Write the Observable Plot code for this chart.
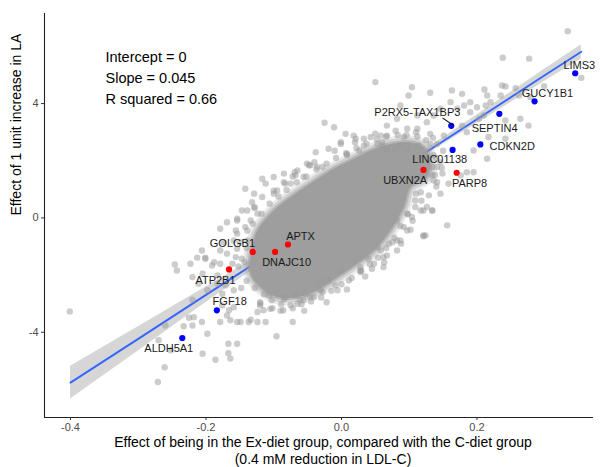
<!DOCTYPE html>
<html>
<head>
<meta charset="utf-8">
<script src="https://cdn.jsdelivr.net/npm/d3@7"></script>
<script src="https://cdn.jsdelivr.net/npm/@observablehq/plot@0.6"></script>
<style>
  body { margin: 0; background: #fff; }
  #chart { width: 601px; height: 467px; }
</style>
</head>
<body>
<div id="chart"></div>
<script>
// ---------- data ----------
// dense core of the grey cloud (outline of the fully overlapped region)
const coreX = [-0.134,-0.124,-0.100,-0.075,-0.046,-0.016,0.013,0.043,0.072,0.102,0.121,0.131,0.126,0.102,0.092,0.072,0.048,0.023,-0.006,-0.036,-0.065,-0.095,-0.120,-0.134];
const coreY = [-1.25,-0.44,0.26,0.73,1.20,1.66,2.01,2.36,2.59,2.65,2.48,2.01,1.43,1.08,0.38,-0.44,-1.14,-1.60,-2.07,-2.53,-2.77,-2.77,-2.42,-1.95];

// individual grey points (x = Ex-diet effect, y = LA effect)
const greyPoints = [
[-0.401,-3.27],[-0.246,-1.63],[-0.243,-1.84],[-0.213,-1.39],[-0.201,-1.39],[-0.191,-1.66],[-0.220,-2.07],[-0.211,-2.30],[-0.198,-2.53],[-0.220,-2.86],
[-0.225,-3.49],[-0.206,-3.64],[-0.233,-3.79],[-0.220,-3.76],[-0.260,-3.76],[-0.198,-4.05],[-0.270,-4.28],[-0.252,-4.63],[-0.261,-5.22],[-0.271,-5.74],
[-0.205,-4.75],[-0.186,-4.96],[-0.167,-4.40],[-0.167,-4.73],[-0.164,-4.92],[-0.154,-4.40],[-0.179,-3.64],[-0.169,-3.41],[-0.164,-3.58],[-0.176,-3.06],
[-0.166,-3.23],[-0.159,-3.12],[-0.154,-3.64],[-0.176,-2.65],[-0.159,-2.53],[-0.183,-2.30],[-0.171,-2.36],[-0.205,-1.95],[-0.183,-2.01],[-0.179,-1.14],
[-0.169,-1.25],[-0.156,-1.37],[-0.161,-1.60],[-0.218,-3.47],[-0.096,-4.14],[-0.149,-3.64],[-0.137,-3.64],[-0.124,-3.64],[-0.112,-3.64],[-0.124,-3.29],
[-0.115,-3.23],[-0.102,-3.16],[-0.086,-3.23],[-0.072,-3.16],[-0.072,-3.64],[-0.134,-3.56],[-0.105,-3.18],[-0.061,-2.88],[-0.046,-2.77],[-0.028,-2.59],
[-0.006,-2.53],[0.011,-2.19],[0.028,-1.89],[0.045,-1.78],[0.062,-1.72],[0.040,-1.43],[0.067,-1.31],[0.082,-1.14],[0.075,-0.85],[0.087,-0.79],
[0.058,-1.14],[-0.120,-3.06],[-0.083,-2.77],[-0.068,-2.71],[-0.107,-2.71],[-0.188,-1.55],[-0.206,-1.14],
[0.124,-0.61],[0.102,-0.41],[0.082,-0.09],[0.097,0.15],[0.117,0.26],[0.126,0.38],[0.134,0.26],[0.109,0.61],[0.146,0.85],[0.156,-0.26],
[0.158,1.20],[0.141,1.25],[0.134,1.49],[0.149,1.55],[0.070,-0.90],[0.053,-1.02],
[-0.038,2.30],[-0.048,1.84],[-0.036,1.78],[-0.056,1.43],[-0.001,2.65],[0.008,2.24],[0.026,2.36],[0.053,2.59],[0.067,2.42],[0.087,2.53],
[0.334,6.53],[0.354,4.90],[0.238,5.60],[0.277,5.57],[0.050,4.75],[0.104,4.57],[0.131,4.38],[0.163,4.46],[0.178,4.34],[0.211,4.49],
[0.215,4.28],[0.237,4.63],[0.242,4.60],[0.235,4.28],[0.257,4.54],[0.262,4.28],[0.299,4.61],[0.279,4.22],[0.264,3.47],[0.276,3.23],
[0.242,3.41],[0.213,3.93],[0.200,3.87],[0.210,3.58],[0.190,3.70],[0.181,3.93],[0.171,3.82],[0.161,4.05],[0.146,3.82],[0.190,4.05],
[0.220,4.05],[0.203,3.47],[0.178,3.23],[0.185,3.00],[0.217,2.83],[0.242,2.77],[0.195,2.36],[0.215,2.07],[0.185,1.60],[0.141,2.59],
[0.131,2.94],[0.151,2.88],[0.112,3.12],[0.097,3.12],[0.126,3.35],[0.136,3.58],[0.112,3.58],[0.082,3.47],[0.099,4.28],[0.087,3.93],
[0.067,3.23],[0.058,2.88],[0.033,2.77],[0.021,2.77],[0.006,2.94],[-0.011,3.17],[0.080,2.42],[0.097,2.42],[0.114,2.53],[0.136,2.19],
[0.146,1.95],[0.134,1.78],[0.176,1.49],[0.195,1.60],[-0.025,3.33],[0.018,2.88],[-0.019,2.42],[0.060,2.65],
[-0.075,1.20],[-0.083,1.20],[-0.095,0.96],[-0.112,1.20],[-0.132,0.55],[-0.147,0.26],[-0.154,-0.09],[-0.169,-0.15],[-0.179,-0.38],[-0.134,-0.09],
[-0.124,0.15],[-0.139,-0.44],[-0.154,-0.55],[-0.159,-0.79],[-0.174,-0.85],[-0.201,-1.43],[-0.223,-1.60],[-0.179,-1.60],[-0.117,1.37],[-0.129,0.85],
[-0.142,1.02],[-0.100,1.43],[-0.085,1.55],[-0.065,1.66],[-0.051,1.90],[-0.069,1.60],[-0.139,0.26],
[0.121,-0.64],[0.097,-0.44],[0.028,-1.72],[-0.001,-1.84],[-0.019,-2.19],[-0.031,-2.53],[-0.053,-2.65],[-0.056,-2.88],
// fringe close to the dense core
[-0.140,-1.05],[-0.131,-0.20],[-0.106,0.50],[-0.081,0.98],[-0.052,1.45],[-0.022,1.90],[0.007,2.26],[0.037,2.60],[0.066,2.84],[0.096,2.90],
[0.125,2.72],[0.140,2.10],[0.138,1.50],[-0.118,0.15],[-0.093,0.75],[-0.066,1.25],[-0.037,1.70],[-0.008,2.10],[0.022,2.45],[0.052,2.75],
[0.083,2.90],[0.112,2.85],
[0.110,0.85],[0.098,0.13],[0.078,-0.69],[0.054,-1.39],[0.029,-1.85],[0.000,-2.32],[-0.030,-2.78],[-0.059,-3.02],[-0.089,-3.02],[-0.114,-2.67],
[-0.140,-2.20],[-0.143,-1.55],[0.087,-0.28],[0.066,-1.05],[0.042,-1.62],[0.015,-2.10],[-0.015,-2.55],[-0.045,-2.92],[-0.075,-3.05],[-0.103,-2.88],
[-0.128,-2.45],
[-0.150,-0.85],[-0.128,0.35],[-0.100,0.95],[-0.072,1.45],[-0.040,1.95],[-0.010,2.35],[0.020,2.65],[0.050,2.95],[0.080,3.05],[0.110,3.00],
[0.135,2.80],[0.150,2.35],[0.148,1.75],[0.140,1.10],
[0.118,0.60],[0.105,-0.10],[0.088,-0.90],[0.063,-1.55],[0.035,-2.05],[0.008,-2.50],[-0.022,-2.95],[-0.055,-3.25],[-0.090,-3.25],[-0.120,-2.95],
[-0.148,-2.45],[-0.152,-1.70],
// further scattered points around the cloud
[-0.001,2.59],[0.008,2.19],[-0.046,1.84],[-0.028,1.78],[-0.085,1.25],[-0.068,1.49],[-0.100,0.85],[-0.117,0.73],[-0.129,0.38],[-0.154,-0.03],
[-0.142,-0.32],[-0.156,-0.44],[-0.139,-0.79],[-0.154,-1.08],[-0.147,-1.43],[-0.120,-3.00],[-0.085,-2.83],[-0.065,-3.00],[-0.041,-2.77],[-0.031,-2.24],
[-0.009,-2.36],[0.028,-1.84],[0.048,-1.60],[0.062,-1.37],[0.082,-0.79],[0.092,-0.32],[0.104,0.03],[0.109,0.38],[0.121,0.26],[0.134,0.26],
[0.121,-0.61],[0.129,0.79],[0.117,0.90],[0.136,1.31],[0.141,1.78],[0.131,2.59],[0.092,2.83],[0.067,2.88],[0.043,2.83],[0.033,2.53],
[0.060,2.53]
];

// highlighted genes
const genes   = ["LIMS3","GUCY1B1","SEPTIN4","P2RX5-TAX1BP3","CDKN2D","LINC01138","UBXN2A","PARP8","APTX","DNAJC10","GOLGB1","ATP2B1","FGF18","ALDH5A1"];
const geneX   = [0.345,0.285,0.233,0.162,0.205,0.164,0.121,0.170,-0.079,-0.098,-0.131,-0.166,-0.184,-0.235];
const geneY   = [5.06,4.08,3.64,3.22,2.57,2.38,1.68,1.58,-0.93,-1.19,-1.19,-1.80,-3.23,-4.20];
const geneGroup = ["up","up","up","up","up","up","down","down","down","down","down","down","up","up"];
// label anchor positions (repelled labels), data units
const labelX  = [0.351,0.304,0.226,0.112,0.252,0.145,0.094,0.189,-0.0605,-0.081,-0.161,-0.186,-0.165,-0.255];
const labelY  = [5.33,4.34,3.12,3.70,2.50,2.05,1.31,1.22,-0.65,-1.55,-0.90,-2.19,-2.91,-4.55];
// leader segment for P2RX5-TAX1BP3
const leader = [{x1: 0.149, y1: 3.50, x2: 0.165, y2: 3.24}];

// regression fit with confidence band
const fitX  = [-0.4,-0.3,-0.2,-0.1,0,0.1,0.2,0.3,0.354];
const fitY  = [-5.76,-4.23,-2.69,-1.16,0.38,1.92,3.45,4.99,5.81];
const fitLo = [-6.33,-4.65,-2.96,-1.30,0.32,1.83,3.30,4.78,5.56];
const fitHi = [-5.19,-3.81,-2.42,-1.02,0.44,2.01,3.60,5.20,6.06];

const xTicks = [-0.4,-0.2,0,0.2];
const yTicks = [-4,0,4];
const annotation = "Intercept = 0\nSlope = 0.045\nR squared = 0.66";
const xTitle = "Effect of being in the Ex-diet group, compared with the C-diet group\n(0.4 mM reduction in LDL-C)";
const yTitle = "Effect of 1 unit increase in LA";

// ---------- build tables ----------
const core = coreX.map((x, i) => ({x, y: coreY[i]}));
const grey = greyPoints.map(([x, y]) => ({x, y}));
const hits = genes.map((g, i) => ({gene: g, x: geneX[i], y: geneY[i], group: geneGroup[i], lx: labelX[i], ly: labelY[i]}));
const fit = fitX.map((x, i) => ({x, y: fitY[i], lo: fitLo[i], hi: fitHi[i]}));

const xDomain = [-0.4384, 0.372];
const yDomain = [-6.98, 7.15];
const font = "'Liberation Sans', Arial, sans-serif";
const coreCurve = "catmull-rom-closed";

const chart = Plot.plot({
  width: 601,
  height: 467,
  marginLeft: 44,
  marginRight: 8,
  marginTop: 13,
  marginBottom: 50,
  style: {fontFamily: font, background: "#fff"},
  x: {domain: xDomain, label: null},
  y: {domain: yDomain, label: null},
  color: {domain: ["up","down"], range: ["#0000ff","#ff0000"]},
  marks: [
    Plot.areaY(fit, {x: "x", y1: "lo", y2: "hi", fill: "#999999", fillOpacity: 0.4}),
    Plot.line(fit, {x: "x", y: "y", stroke: "#3366ff", strokeWidth: 1.9}),
    // soft graded edge around the dense core, then the core itself
    Plot.line(core, {x: "x", y: "y", fill: "none", stroke: "#999999", strokeOpacity: 0.2, strokeWidth: 14, strokeLinejoin: "round", curve: coreCurve}),
    Plot.line(core, {x: "x", y: "y", fill: "none", stroke: "#999999", strokeOpacity: 0.3, strokeWidth: 9, strokeLinejoin: "round", curve: coreCurve}),
    Plot.line(core, {x: "x", y: "y", fill: "none", stroke: "#999999", strokeOpacity: 0.5, strokeWidth: 4, strokeLinejoin: "round", curve: coreCurve}),
    Plot.line(core, {x: "x", y: "y", fill: "#9e9e9e", stroke: "none", curve: coreCurve}),
    Plot.dot(grey, {x: "x", y: "y", r: 3.2, fill: "#999999", fillOpacity: 0.5, stroke: "none"}),
    Plot.dot(hits, {x: "x", y: "y", r: 3.1, fill: "group", stroke: "none"}),
    Plot.link(leader, {x1: "x1", y1: "y1", x2: "x2", y2: "y2", stroke: "#111", strokeWidth: 1.1}),
    Plot.text(hits, {x: "lx", y: "ly", text: "gene", fontSize: 11, fill: "#1a1a1a", textAnchor: "middle"}),
    Plot.text([annotation], {frameAnchor: "top-left", dx: 61, dy: 34, text: d => d, fontSize: 14.5, lineHeight: 1.45, fill: "#000", textAnchor: "start", lineAnchor: "top"}),
    Plot.ruleX([xDomain[0]], {stroke: "#222", strokeWidth: 1.1}),
    Plot.ruleY([yDomain[0]], {stroke: "#222", strokeWidth: 1.1}),
    Plot.axisX({ticks: xTicks, tickFormat: d => d.toFixed(1), tickSize: 3, tickPadding: 3, fontSize: 11, stroke: "#333", fill: "#4d4d4d", label: null}),
    Plot.axisY({ticks: yTicks, tickFormat: d => String(d), tickSize: 3, tickPadding: 3, fontSize: 11, stroke: "#333", fill: "#4d4d4d", label: null}),
    Plot.text([yTitle], {frameAnchor: "left", dx: -28, rotate: -90, text: d => d, fontSize: 14, fill: "#000"}),
    Plot.text([xTitle], {frameAnchor: "bottom", dx: 4, dy: 18, lineAnchor: "top", text: d => d, fontSize: 14, lineHeight: 1.2, fill: "#000"})
  ]
});
document.getElementById("chart").appendChild(chart);
</script>
</body>
</html>
